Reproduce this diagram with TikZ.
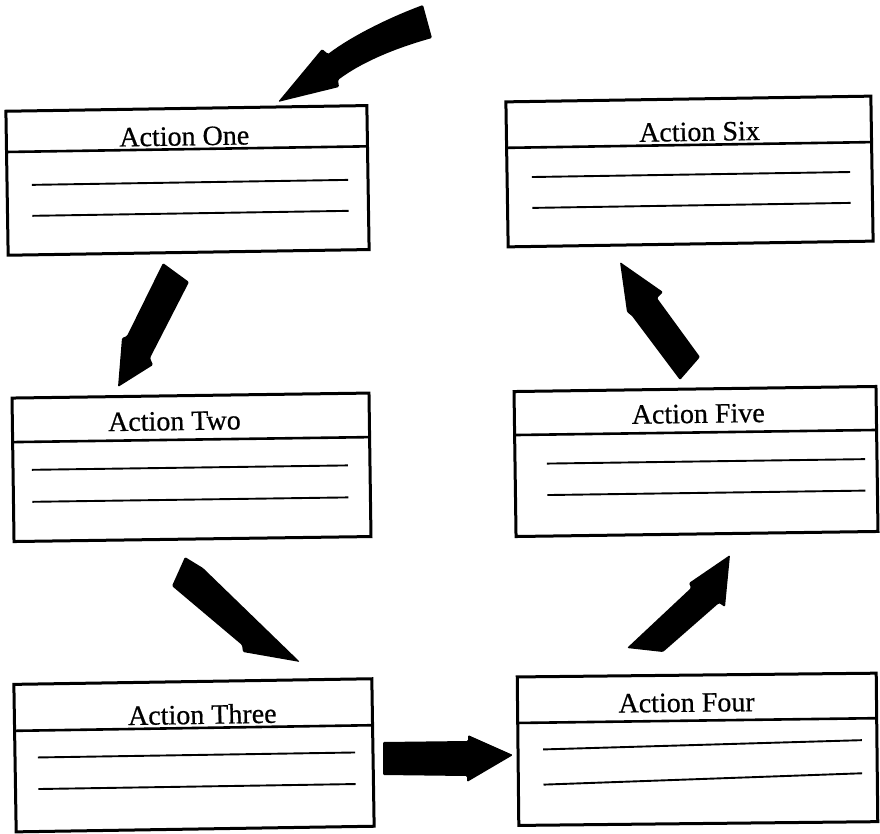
\documentclass[tikz,border=0pt]{standalone}
\usepackage{fontspec}
\setmainfont{Liberation Serif}
\newfontface\titlefont{Liberation Serif}[FakeBold=0.6]
\usetikzlibrary{calc}
\newcommand{\bpt}[3]{($ ($(#1.north west)!#3!(#1.south west)$)!#2!($(#1.north east)!#3!(#1.south east)$) $)}
\tikzset{
  abox/.style={draw, line width=3pt, inner sep=0pt, outer sep=0pt, fill=white},
  hline/.style={line width=2.6pt},
  rline/.style={line width=1.9pt},
  atitle/.style={font=\titlefont\fontsize{28}{30}\selectfont, inner sep=0pt, anchor=base},
  blk/.style={fill=black, rounded corners=1.2pt},
}
\begin{document}
\begin{tikzpicture}[x=1pt,y=-1pt]
\useasboundingbox (0,0) rectangle (880,834);
\fill[white] (0,0) rectangle (880,834);

% Action One
\node[abox, minimum width=361pt, minimum height=144pt, rotate=0.9] (b1) at (187.5,180.4) {};
\draw[hline] \bpt{b1}{0}{0.283} -- \bpt{b1}{1}{0.283};
\draw[rline] \bpt{b1}{0.069}{0.514} -- \bpt{b1}{0.945}{0.514};
\draw[rline] \bpt{b1}{0.069}{0.729} -- \bpt{b1}{0.945}{0.729};
\node[atitle, rotate=0.9] (t1) at \bpt{b1}{0.493}{0.257} {Action One};

% Action Six
\node[abox, minimum width=365pt, minimum height=145pt, rotate=0.9] (b6) at (689.5,171.5) {};
\draw[hline] \bpt{b6}{0}{0.317} -- \bpt{b6}{1}{0.317};
\draw[rline] \bpt{b6}{0.068}{0.521} -- \bpt{b6}{0.94}{0.521};
\draw[rline] \bpt{b6}{0.068}{0.734} -- \bpt{b6}{0.94}{0.734};
\node[atitle, rotate=0.9] (t6) at \bpt{b6}{0.529}{0.29} {Action Six};

% Action Two
\node[abox, minimum width=357pt, minimum height=143.5pt, rotate=0.8] (b2) at (191.5,467.3) {};
\draw[hline] \bpt{b2}{0}{0.307} -- \bpt{b2}{1}{0.307};
\draw[rline] \bpt{b2}{0.053}{0.502} -- \bpt{b2}{0.938}{0.502};
\draw[rline] \bpt{b2}{0.053}{0.725} -- \bpt{b2}{0.938}{0.725};
\node[atitle, rotate=0.8] (t2) at \bpt{b2}{0.454}{0.24} {Action Two};

% Action Five
\node[abox, minimum width=362pt, minimum height=145pt, rotate=0.8] (b5) at (696,461.5) {};
\draw[hline] \bpt{b5}{0}{0.3} -- \bpt{b5}{1}{0.3};
\draw[rline] \bpt{b5}{0.088}{0.5} -- \bpt{b5}{0.967}{0.5};
\draw[rline] \bpt{b5}{0.088}{0.717} -- \bpt{b5}{0.967}{0.717};
\node[atitle, rotate=0.8] (t5) at \bpt{b5}{0.508}{0.234} {Action Five};

% Action Three
\node[abox, minimum width=358pt, minimum height=147.5pt, rotate=0.9] (b3) at (194,755.3) {};
\draw[hline] \bpt{b3}{0}{0.315} -- \bpt{b3}{1}{0.315};
\draw[rline] \bpt{b3}{0.064}{0.498} -- \bpt{b3}{0.95}{0.498};
\draw[rline] \bpt{b3}{0.064}{0.712} -- \bpt{b3}{0.95}{0.712};
\node[atitle, rotate=0.9] (t3) at \bpt{b3}{0.525}{0.288} {Action Three};

% Action Four
\node[abox, minimum width=359pt, minimum height=148.5pt, rotate=0.6] (b4) at (697.5,749.3) {};
\draw[hline] \bpt{b4}{0}{0.31} -- \bpt{b4}{1}{0.303};
\draw[rline] \bpt{b4}{0.07}{0.49} -- \bpt{b4}{0.958}{0.45};
\draw[rline] \bpt{b4}{0.07}{0.727} -- \bpt{b4}{0.958}{0.673};
\node[atitle, rotate=0.6] (t4) at \bpt{b4}{0.471}{0.247} {Action Four};

% Block arrows
\fill[blk] (423,5) .. controls (388,18) and (352,36) .. (328,54) -- (322,49) -- (278,102) -- (339,87) -- (338,80) .. controls (362,62) and (396,48) .. (432,38) -- cycle;
\fill[blk] (163,263) -- (189,282) -- (150,358) -- (153,365) -- (118,387) -- (122,338) -- (127,336) -- cycle;
\fill[blk] (185,557) -- (203,568) -- (300,662) -- (243,652) -- (242,645) -- (172,586) -- cycle;
\fill[blk] (383,742) -- (468,741) -- (468,735) -- (513,755) -- (467,782) -- (467,776) -- (383,775) -- cycle;
\fill[blk] (627,648) -- (691,588) -- (689,583) -- (730,555) -- (725,607) -- (719,603) -- (663,652) -- cycle;
\fill[blk] (680,380) -- (632,316) -- (627,312) -- (620,262) -- (663,292) -- (657,298) -- (700,357) -- cycle;
\end{tikzpicture}
\end{document}
